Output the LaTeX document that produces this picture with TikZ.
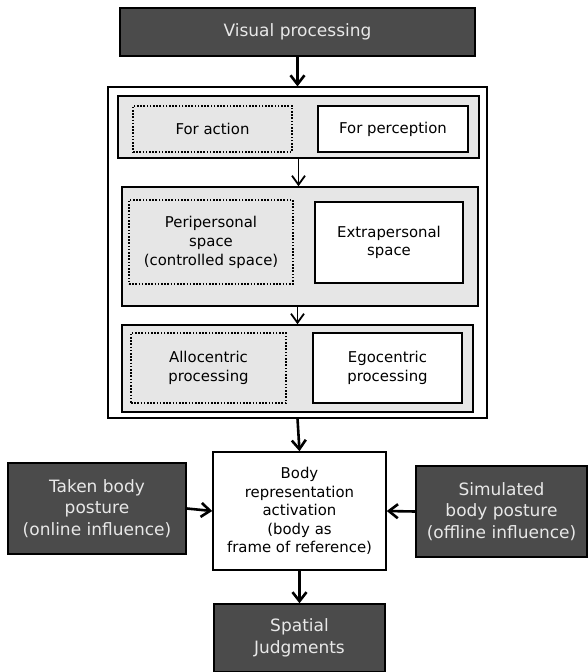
\documentclass[tikz,border=0pt]{standalone}
\usepackage{fontspec}
\setmainfont{DejaVu Sans}
\usetikzlibrary{arrows.meta}
\definecolor{darkfill}{HTML}{4B4B4B}
\definecolor{lighttext}{HTML}{E8E8E8}
\definecolor{panelfill}{HTML}{E6E6E6}

\begin{document}
\begin{tikzpicture}[x=1pt,y=-1pt,
        darkbox/.style={draw=black, line width=1.5pt, fill=darkfill, text=lighttext,
                        align=center, inner sep=0pt, font=\fontsize{17}{21.5}\selectfont},
        whitebox/.style={draw=black, line width=1.5pt, fill=white, align=center,
                         inner sep=0pt, font=\fontsize{14.9}{18.5}\selectfont},
        dotbox/.style={draw=black, line width=1.7pt, dash pattern=on 1.6pt off 1.6pt,
                       fill=panelfill, align=center, inner sep=0pt,
                       font=\fontsize{14.9}{19}\selectfont},
        panel/.style={draw=black, line width=1.5pt, fill=panelfill, inner sep=0pt},
        bigarrow/.style={line width=2.6pt, -{Straight Barb[length=9pt,width=14pt]}},
        thinarrow/.style={line width=1.8pt, -{Straight Barb[length=9pt,width=13pt]}}]
    \useasboundingbox (0,0) rectangle (587,672);

    \node[darkbox, minimum width=355, minimum height=48] (visual) at (297.5,32) {Visual processing};

    \node[draw=black, line width=1.2pt, fill=white, minimum width=379, minimum height=331] (frame) at (297.5,252.5) {};

    \node[panel, minimum width=361, minimum height=62] (panelA) at (298.5,127) {};
    \node[dotbox, minimum width=159, minimum height=46] (action) at (212.5,129) {For action};
    \node[whitebox, minimum width=150, minimum height=46] (percep) at (393,129) {For perception};

    \node[panel, minimum width=356, minimum height=119] (panelB) at (300,246.5) {};
    \node[dotbox, minimum width=164, minimum height=84] (peri) at (211,242) {Peripersonal\\space\\(controlled space)};
    \node[whitebox, minimum width=148, minimum height=81] (extra) at (389,242.5) {Extrapersonal\\space};

    \node[panel, minimum width=351, minimum height=87] (panelC) at (297.5,368.5) {};
    \node[dotbox, minimum width=155, minimum height=70] (allo) at (208.5,368) {Allocentric\\processing};
    \node[whitebox, minimum width=149, minimum height=70] (ego) at (387.5,368) {Egocentric\\processing};

    \node[whitebox, minimum width=173, minimum height=118] (body) at (299.5,511) {Body\\representation\\activation\\(body as\\frame of reference)};
    \node[darkbox, minimum width=178, minimum height=91] (taken) at (97,508.5) {Taken body\\posture\\(online influence)};
    \node[darkbox, minimum width=171, minimum height=91] (simul) at (501.5,511.5) {Simulated\\body posture\\(offline influence)};
    \node[darkbox, minimum width=171, minimum height=68] (spatial) at (299.5,638) {Spatial\\Judgments};

    \draw[bigarrow] (visual.south) -- (frame.north);
    \draw[thinarrow] (panelA.south) -- (panelA.south |- panelB.north);
    \draw[thinarrow] (panelB.south -| panelC.north) -- (panelC.north);
    \draw[bigarrow] (frame.south) -- (body.north);
    \draw[bigarrow] (taken.east) -- (body.west);
    \draw[bigarrow] (simul.west) -- (body.east);
    \draw[bigarrow] (body.south) -- (spatial.north);
\end{tikzpicture}
\end{document}
